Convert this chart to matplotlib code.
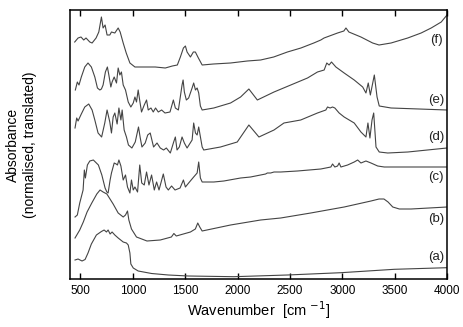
import matplotlib

matplotlib.use("Agg")
import matplotlib.pyplot as plt

plt.rcParams["font.family"] = ["Liberation Sans", "DejaVu Sans"]

# wavenumber [cm-1] and absorbance (normalised, translated) for each spectrum
wn_a = [448, 477, 515, 544, 572, 604, 652, 700, 726, 748, 764, 783, 802, 828, 860, 908, 939,
        956, 972, 981, 1004, 1051, 1179, 1339, 1530, 1964, 2476, 2987, 3497, 4000]
abs_a = [0.19, 0.20, 0.18, 0.195, 0.26, 0.35, 0.44, 0.475, 0.49, 0.47, 0.49, 0.45, 0.47, 0.44,
         0.41, 0.37, 0.36, 0.34, 0.26, 0.15, 0.11, 0.08, 0.055, 0.04, 0.03, 0.023, 0.04, 0.063,
         0.097, 0.113]

wn_b = [448, 493, 527, 563, 608, 656, 687, 716, 752, 812, 860, 908, 930, 949, 962, 987, 1035,
        1135, 1262, 1368, 1392, 1415, 1550, 1597, 1620, 1639, 1662, 1933, 2220, 2412, 2699,
        3018, 3274, 3351, 3398, 3437, 3482, 3545, 3657, 4000]
abs_b = [0.41, 0.49, 0.57, 0.67, 0.76, 0.85, 0.89, 0.87, 0.85, 0.75, 0.66, 0.62, 0.64, 0.68,
         0.59, 0.50, 0.42, 0.38, 0.39, 0.42, 0.455, 0.43, 0.47, 0.50, 0.56, 0.52, 0.48, 0.54,
         0.59, 0.61, 0.66, 0.72, 0.78, 0.80, 0.80, 0.77, 0.72, 0.70, 0.70, 0.72]

wn_c = [448, 470, 493, 525, 537, 547, 566, 589, 623, 671, 704, 735, 752, 764, 783, 796, 822,
        841, 853, 867, 886, 908, 930, 949, 972, 987, 1004, 1020, 1045, 1066, 1085, 1109, 1131,
        1154, 1179, 1205, 1227, 1250, 1291, 1317, 1339, 1370, 1403, 1451, 1483, 1502, 1533,
        1581, 1614, 1629, 1645, 1662, 1773, 1869, 2029, 2124, 2268, 2284, 2316, 2348, 2412,
        2572, 2795, 2891, 2907, 2929, 2955, 2970, 2987, 3051, 3114, 3147, 3178, 3226, 3274,
        3338, 3401, 3657, 4000]
abs_c = [0.62, 0.64, 0.76, 0.89, 1.09, 1.01, 1.14, 1.18, 1.19, 1.14, 1.04, 0.91, 0.87, 0.86,
         0.99, 1.06, 1.16, 1.15, 1.14, 1.19, 1.13, 0.99, 1.04, 0.92, 0.86, 0.99, 0.89, 0.92,
         0.87, 1.14, 0.96, 0.94, 1.07, 0.94, 1.04, 0.89, 0.97, 0.89, 1.05, 0.92, 0.89, 0.93,
         0.89, 0.91, 0.99, 0.92, 0.96, 1.02, 1.06, 1.17, 1.01, 0.97, 0.97, 0.98, 1.01, 1.02,
         1.05, 1.06, 1.06, 1.07, 1.07, 1.08, 1.10, 1.12, 1.15, 1.12, 1.13, 1.16, 1.12, 1.14,
         1.17, 1.19, 1.16, 1.18, 1.16, 1.13, 1.12, 1.12, 1.12]

wn_d = [448, 464, 477, 508, 541, 579, 611, 637, 668, 702, 732, 754, 780, 796, 812, 828, 850,
        867, 886, 898, 917, 939, 958, 991, 1023, 1054, 1071, 1087, 1118, 1142, 1166, 1198,
        1231, 1262, 1294, 1320, 1358, 1390, 1406, 1422, 1444, 1470, 1492, 1518, 1566, 1581,
        1598, 1614, 1629, 1662, 1677, 1837, 1997, 2108, 2204, 2348, 2443, 2603, 2763, 2843,
        2859, 2884, 2907, 2929, 2970, 3018, 3114, 3178, 3226, 3245, 3264, 3284, 3300, 3322,
        3353, 3434, 3626, 4000]
abs_d = [1.51, 1.61, 1.58, 1.65, 1.72, 1.75, 1.69, 1.59, 1.46, 1.42, 1.56, 1.69, 1.57, 1.46,
         1.62, 1.66, 1.55, 1.71, 1.59, 1.69, 1.49, 1.42, 1.34, 1.31, 1.37, 1.52, 1.41, 1.32,
         1.36, 1.44, 1.46, 1.32, 1.36, 1.31, 1.29, 1.31, 1.26, 1.37, 1.42, 1.29, 1.32, 1.42,
         1.36, 1.31, 1.39, 1.56, 1.46, 1.44, 1.52, 1.32, 1.29, 1.32, 1.37, 1.54, 1.42, 1.49,
         1.56, 1.59, 1.66, 1.69, 1.72, 1.71, 1.72, 1.71, 1.66, 1.62, 1.56, 1.47, 1.42, 1.56,
         1.41, 1.59, 1.66, 1.32, 1.27, 1.26, 1.27, 1.31]

wn_e = [451, 470, 486, 508, 541, 572, 604, 637, 662, 685, 700, 716, 738, 757, 771, 790, 802,
        822, 844, 860, 876, 891, 908, 930, 956, 981, 1004, 1020, 1035, 1051, 1068, 1083, 1109,
        1131, 1147, 1173, 1195, 1217, 1243, 1275, 1307, 1355, 1387, 1406, 1435, 1470, 1480,
        1492, 1511, 1533, 1566, 1581, 1598, 1614, 1629, 1645, 1662, 1773, 1933, 2029, 2108,
        2189, 2348, 2508, 2668, 2763, 2827, 2852, 2874, 2897, 2939, 3018, 3114, 3195, 3226,
        3248, 3268, 3306, 3332, 3353, 3466, 4000]
abs_e = [1.89, 1.97, 1.94, 2.02, 2.12, 2.16, 2.12, 2.02, 1.91, 1.89, 1.90, 1.94, 2.07, 2.12,
         2.04, 1.92, 1.97, 2.02, 1.96, 2.11, 2.04, 2.07, 1.94, 1.89, 1.77, 1.72, 1.76, 1.82,
         1.77, 1.89, 1.77, 1.67, 1.74, 1.79, 1.69, 1.71, 1.67, 1.71, 1.67, 1.69, 1.66, 1.67,
         1.79, 1.71, 1.69, 1.94, 1.99, 1.87, 1.79, 1.81, 1.91, 1.96, 1.89, 1.91, 1.86, 1.73,
         1.69, 1.71, 1.76, 1.82, 1.90, 1.79, 1.87, 1.94, 2.01, 2.07, 2.09, 2.16, 2.14, 2.17,
         2.12, 2.06, 1.99, 1.92, 1.86, 1.96, 1.84, 2.04, 1.82, 1.73, 1.71, 1.69]

wn_f = [445, 477, 505, 531, 553, 589, 611, 649, 675, 700, 716, 735, 754, 780, 796, 828, 860,
        879, 908, 937, 972, 1020, 1116, 1214, 1310, 1377, 1425, 1454, 1483, 1502, 1518, 1550,
        1578, 1597, 1626, 1662, 1770, 1933, 2093, 2220, 2345, 2476, 2605, 2728, 2795, 2826,
        2955, 3015, 3035, 3063, 3178, 3290, 3351, 3466, 3625, 3753, 3849, 3945, 4000]
abs_f = [2.37, 2.41, 2.42, 2.39, 2.41, 2.37, 2.36, 2.41, 2.47, 2.62, 2.51, 2.54, 2.44, 2.44,
         2.47, 2.46, 2.51, 2.47, 2.36, 2.26, 2.16, 2.12, 2.12, 2.12, 2.11, 2.13, 2.14, 2.22,
         2.31, 2.33, 2.27, 2.22, 2.27, 2.27, 2.21, 2.14, 2.15, 2.16, 2.18, 2.19, 2.22, 2.27,
         2.31, 2.36, 2.39, 2.41, 2.46, 2.48, 2.51, 2.47, 2.42, 2.36, 2.34, 2.36, 2.41, 2.46,
         2.51, 2.57, 2.64]

spectra = [
    ("(a)", wn_a, abs_a, 0.22),
    ("(b)", wn_b, abs_b, 0.60),
    ("(c)", wn_c, abs_c, 1.02),
    ("(d)", wn_d, abs_d, 1.42),
    ("(e)", wn_e, abs_e, 1.79),
    ("(f)", wn_f, abs_f, 2.39),
]
x_ticks = [500, 1000, 1500, 2000, 2500, 3000, 3500, 4000]

fig = plt.figure(figsize=(4.63, 3.27), dpi=100)
ax = fig.add_axes([70 / 463, 48 / 327, 377 / 463, 269 / 327])

for label, wn, ab, label_y in spectra:
    ax.plot(wn, ab, color="#444444", linewidth=0.8)
    ax.text(3895, label_y, label, ha="center", va="center", fontsize=9.5, color="#222222")

ax.set_xlim(400, 4000)
ax.set_ylim(0, 2.69)
ax.set_xticks(x_ticks)
ax.set_yticks([])
ax.tick_params(axis="x", direction="in", top=True, length=4.5, width=1,
               labelsize=8.5, pad=4)
for spine in ax.spines.values():
    spine.set_linewidth(1.1)

ax.set_xlabel("Wavenumber  [cm $^{-1}$]", fontsize=10.5, labelpad=2)
ax.set_ylabel("Absorbance\n(normalised, translated)", fontsize=10, labelpad=24)

fig.savefig("out.png", dpi=100)
